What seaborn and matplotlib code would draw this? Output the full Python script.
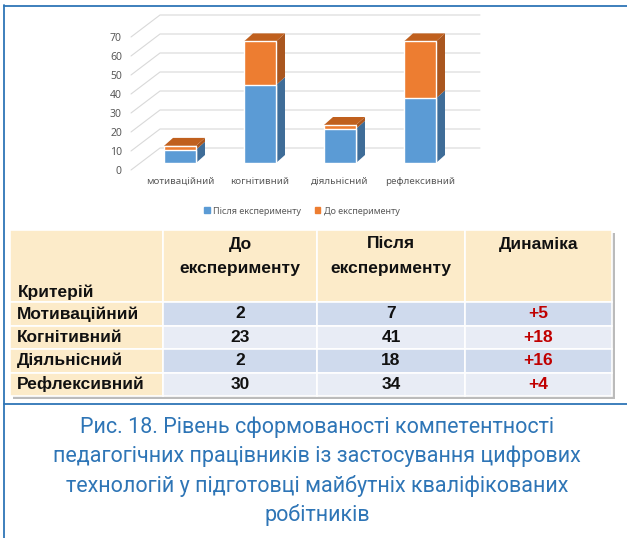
import numpy as np
import pandas as pd
import seaborn as sns
import matplotlib.pyplot as plt
from matplotlib.patches import Polygon, Rectangle, Patch

sns.set_style("white")
FONT = ["Noto Sans", "DejaVu Sans"]
plt.rcParams["font.family"] = FONT
BOLD_FONT = ["Liberation Sans", "DejaVu Sans"]
CAP_FONT = ["Roboto", "DejaVu Sans"]

# ---- data ----
categories = ["мотиваційний", "когнітивний", "діяльнісний", "рефлексивний"]
criteria = ["Мотиваційний", "Когнітивний", "Діяльнісний", "Рефлексивний"]
before = [2, 23, 2, 30]
after = [7, 41, 18, 34]
dynamics = ["+5", "+18", "+16", "+4"]
y_ticks = [0, 10, 20, 30, 40, 50, 60, 70]
series_labels = ["Після експерименту", "До експерименту"]
table_header = ["Критерій", "До\nексперименту", "Після\nексперименту", "Динаміка"]
caption = ("Рис. 18. Рівень сформованості компетентності\n"
           "педагогічних працівників із застосування цифрових\n"
           "технологій у підготовці майбутніх кваліфікованих\n"
           "робітників")

df = pd.DataFrame({"category": categories, "before": before, "after": after})
df["total"] = df["before"] + df["after"]

BLUE, BLUE_SIDE = "#5B9BD5", "#3F6D98"
ORANGE, ORANGE_SIDE, ORANGE_TOP = "#ED7D31", "#A9561F", "#C0601E"
GRID = "#D9D9D9"
TXT = "#595959"
FRAME = "#2E75B6"

W, H = 627, 538
fig = plt.figure(figsize=(W / 100, H / 100), dpi=100)


def frac(left, top, width, height):
    # pixel box (from top-left) -> figure fraction
    return [left / W, 1 - (top + height) / H, width / W, height / H]


# ---- front plane: y ticks + perspective grid ----
ax_f = fig.add_axes(frac(131, 37, 320, 133))
ax_f.set_xlim(-0.5, 3.5)
ax_f.set_ylim(0, 70)
back_dx, back_dy = 29 / 80, 22 / 1.9
for v in y_ticks:
    ax_f.plot([-0.5, -0.5 + back_dx, 3.5 + back_dx], [v, v + back_dy, v + back_dy],
              color=GRID, lw=0.8, clip_on=False)
ax_f.set_yticks(y_ticks)
ax_f.set_xticks([])
ax_f.tick_params(axis="y", length=0, pad=6.5, labelsize=7.5, labelcolor=TXT)
sns.despine(ax=ax_f, left=True, bottom=True)

# ---- bars (stacked, pseudo 3D) ----
ax = fig.add_axes(frac(140, 30, 320, 133))
ax.patch.set_alpha(0)
sns.barplot(data=df, x="category", y="total", color=ORANGE, width=0.4,
            saturation=1, ax=ax, zorder=3)
sns.barplot(data=df, x="category", y="after", color=BLUE, width=0.4,
            saturation=1, ax=ax, zorder=4)
ax.set_xlim(-0.5, 3.5)
ax.set_ylim(0, 70)
ax.set_yticks([])
ax.set_xlabel("")
ax.set_ylabel("")
ax.tick_params(axis="x", length=0, pad=10, labelsize=7, labelcolor=TXT)
sns.despine(ax=ax, left=True, bottom=True)

dx, dy = 9 / 80, 8 / 1.9
for p, a, t in zip(ax.patches[4:8], df["after"], df["total"]):
    x0, w = p.get_x(), p.get_width()
    x1 = x0 + w
    for lo, hi, c in [(0, a, BLUE_SIDE), (a, t, ORANGE_SIDE)]:
        ax.add_patch(Polygon([(x1, lo), (x1 + dx, lo + dy), (x1 + dx, hi + dy), (x1, hi)],
                             closed=True, fc=c, ec="none", zorder=2, clip_on=False))
    ax.add_patch(Polygon([(x0, t), (x0 + dx, t + dy), (x1 + dx, t + dy), (x1, t)],
                         closed=True, fc=ORANGE_TOP, ec="none", zorder=2, clip_on=False))

handles = [Patch(color=BLUE), Patch(color=ORANGE)]
leg = fig.legend(handles, series_labels, loc="center", bbox_to_anchor=(302 / W, 1 - 211 / H),
                 ncol=2, frameon=False, fontsize=6.5, handlelength=0.6, handleheight=0.6,
                 columnspacing=1.5, handletextpad=0.4)
for t in leg.get_texts():
    t.set_color(TXT)

# ---- overlay: frame, table, caption ----
ax_o = fig.add_axes([0, 0, 1, 1], zorder=-1)
ax_o.set_xlim(0, W)
ax_o.set_ylim(H, 0)
ax_o.axis("off")

ax_o.plot([4, 4], [5, H], color=FRAME, lw=1.3)
ax_o.plot([4, W], [5.5, 5.5], color=FRAME, lw=1.3)
ax_o.plot([4, W], [404, 404], color=FRAME, lw=1.3)

col_edges = [10, 163, 317, 465, 612]
row_edges = [230, 302, 325.5, 349, 372.5, 396]
PEACH, ROW_A, ROW_B = "#FCEBC9", "#CFDAED", "#E8ECF5"

ax_o.add_patch(Rectangle((13, 233), col_edges[-1] - col_edges[0], row_edges[-1] - row_edges[0],
                         fc="#BBBBBB", ec="none"))
for r in range(len(row_edges) - 1):
    for c in range(len(col_edges) - 1):
        if r == 0 or c == 0:
            fc = PEACH
        else:
            fc = ROW_A if r % 2 == 1 else ROW_B
        ax_o.add_patch(Rectangle((col_edges[c], row_edges[r]), col_edges[c + 1] - col_edges[c],
                                 row_edges[r + 1] - row_edges[r], fc=fc, ec="white", lw=1.2))

hdr_kw = dict(fontsize=12.5, fontweight="bold", color="#111111", va="center", family=BOLD_FONT)
ax_o.text(18, 292, table_header[0], ha="left", **hdr_kw)
for c, label in enumerate(table_header[1:], start=1):
    cx = (col_edges[c] + col_edges[c + 1]) / 2
    for i, line in enumerate(label.split("\n")):
        ax_o.text(cx, 244 + 24 * i, line, ha="center", **hdr_kw)

for r, (name, b, a, d) in enumerate(zip(criteria, before, after, dynamics)):
    cy = (row_edges[r + 1] + row_edges[r + 2]) / 2
    ax_o.text(17, cy, name, ha="left", **hdr_kw)
    cells = [str(b), str(a), d]
    for c, val in enumerate(cells, start=1):
        cx = (col_edges[c] + col_edges[c + 1]) / 2
        kw = dict(hdr_kw, color="#C00000" if c == 3 else "#111111")
        ax_o.text(cx, cy, val, ha="center", **kw)

for i, line in enumerate(caption.split("\n")):
    ax_o.text(317, 427 + 29.4 * i, line, ha="center", va="center", fontsize=15.5,
              color=FRAME, family=CAP_FONT)

fig.savefig("out.png", dpi=100)
